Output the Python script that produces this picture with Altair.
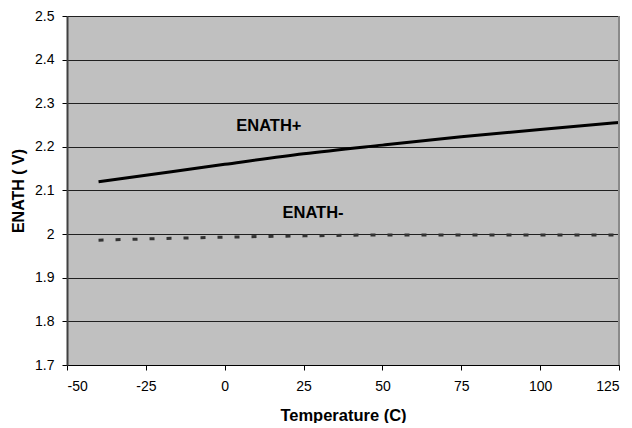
import altair as alt
import pandas as pd

temps = [-40, -25, 0, 25, 50, 75, 100, 125]
enath_plus = [2.120, 2.135, 2.160, 2.184, 2.204, 2.223, 2.240, 2.256]
enath_minus = [1.986, 1.989, 1.993, 1.996, 1.998, 1.998, 1.998, 1.998]
x_ticks = [-50, -25, 0, 25, 50, 75, 100, 125]
y_ticks = [1.7, 1.8, 1.9, 2.0, 2.1, 2.2, 2.3, 2.4, 2.5]
label_text = ["ENATH+", "ENATH-"]
label_x = [14, 28]
label_y = [2.248, 2.048]

FONT = "Liberation Sans"

df_plus = pd.DataFrame({"t": temps, "v": enath_plus})
df_minus = pd.DataFrame({"t": temps, "v": enath_minus})
df_lab = pd.DataFrame({"t": label_x, "v": label_y, "label": label_text})

xscale = alt.Scale(domain=[-50, 125], nice=False, zero=False)
yscale = alt.Scale(domain=[1.7, 2.5], nice=False, zero=False)

xaxis = alt.Axis(
    title="Temperature (C)", values=x_ticks, grid=False,
    labelExpr="'' + datum.value",
    domainColor="#000000", domainWidth=1, tickColor="#000000", tickSize=5,
    labelFont=FONT, labelFontSize=14, labelColor="#000000", labelPadding=9,
    titleFont=FONT, titleFontSize=16.5, titleFontWeight="bold", titleColor="#000000",
    titleY=50, titleBaseline="middle",
)
yaxis = alt.Axis(
    title="ENATH ( V)", values=y_ticks, format=".1~f", grid=True,
    gridColor="#202020", gridWidth=1, gridOpacity=1,
    domainColor="#404040", domainWidth=2, tickColor="#000000", tickSize=5,
    labelFont=FONT, labelFontSize=14, labelColor="#000000", labelPadding=8,
    titleFont=FONT, titleFontSize=16, titleFontWeight="bold", titleColor="#000000",
    titleAngle=-90, titleX=-49, titleY=174.5, titleAlign="center", titleBaseline="middle",
)

base_plus = alt.Chart(df_plus).mark_line(color="#000000", strokeWidth=3, interpolate="monotone").encode(
    x=alt.X("t:Q", scale=xscale, axis=xaxis),
    y=alt.Y("v:Q", scale=yscale, axis=yaxis),
)
line_minus = alt.Chart(df_minus).mark_line(
    color="#333333", strokeWidth=3, strokeDash=[5, 12], interpolate="monotone"
).encode(x=alt.X("t:Q", scale=xscale), y=alt.Y("v:Q", scale=yscale))

right_border = alt.Chart(pd.DataFrame({"t": [125]})).mark_rule(color="#8a8a8a", strokeWidth=2).encode(
    x=alt.X("t:Q", scale=xscale)
)

labels = alt.Chart(df_lab).mark_text(
    font=FONT, fontSize=16.5, fontWeight="bold", color="#000000", align="center", baseline="middle"
).encode(x=alt.X("t:Q", scale=xscale), y=alt.Y("v:Q", scale=yscale), text="label:N")

chart = alt.layer(base_plus, line_minus, right_border, labels).properties(
    width=552, height=349,
    autosize="none",
    padding={"left": 59, "top": 8, "right": 5, "bottom": 58},
    background="#ffffff",
).configure_view(fill="#C0C0C0", stroke=None)

chart.save("out.html", embed_options={"renderer": "svg", "actions": False})
